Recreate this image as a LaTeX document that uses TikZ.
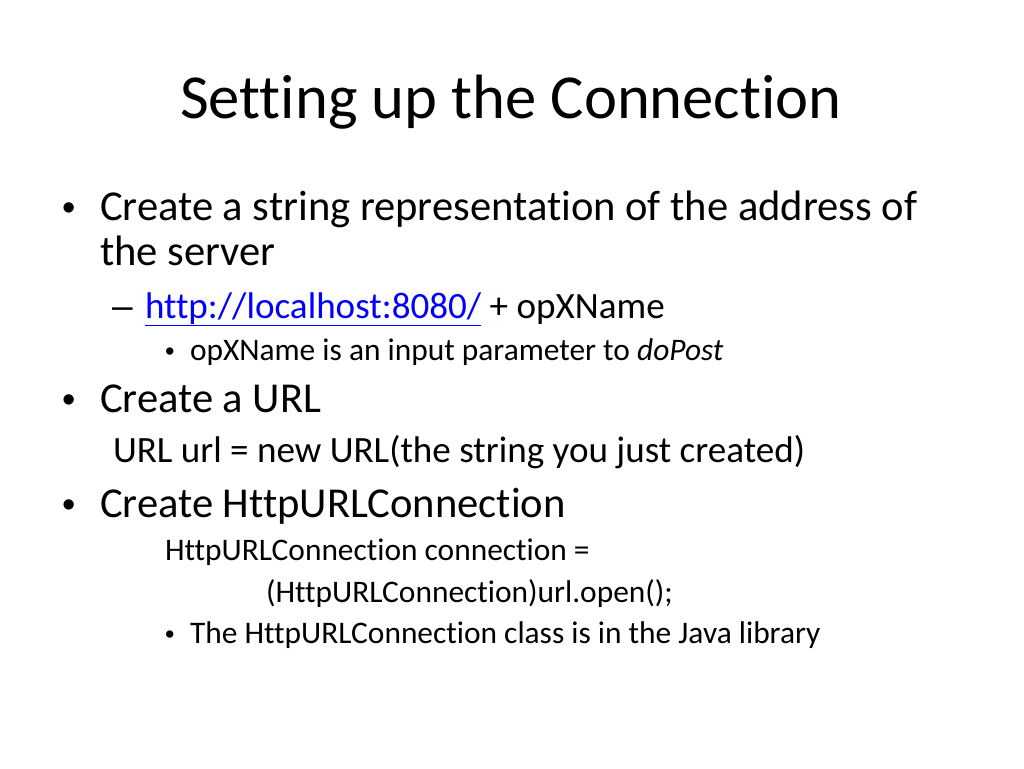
\documentclass[tikz,border=0pt]{standalone}
\usepackage{fontspec}
\setmainfont{Carlito}[Ligatures=NoCommon]
\newfontfamily\bulletfont{Liberation Sans}
\definecolor{linkblue}{RGB}{0,0,255}
\tikzset{
  txt/.style={anchor=base west, inner sep=0pt, outer sep=0pt},
  ttl/.style={anchor=base, inner sep=0pt, font=\fontsize{62.6}{70}\selectfont},
  lone/.style={txt, font=\fontsize{42.6}{48}\selectfont},
  ltwo/.style={txt, font=\fontsize{37.1}{42}\selectfont},
  lthree/.style={txt, font=\fontsize{31.4}{36}\selectfont},
  bone/.style={txt, font=\bulletfont\fontsize{38}{40}\selectfont},
  bthree/.style={txt, font=\bulletfont\fontsize{27}{30}\selectfont},
  dashmark/.style={txt, font=\bulletfont\fontsize{37}{40}\selectfont},
}
\begin{document}
\begin{tikzpicture}[x=1pt,y=-1pt]
\useasboundingbox (0,0) rectangle (1024,768);
\node[ttl] (title) at (511,118) {Setting up the Connection};
% level 1
\node[bone] (b1) at (62,220) {•};
\node[lone] (t1) at (100,220) {Create a string representation of the address of};
\node[lone] (t1b) at (100,265) {the server};
\node[dashmark] (d1) at (112,318) {–};
\node[ltwo, text=linkblue] (link) at (145,318) {\underline{http://localhost:8080/}};
\node[ltwo] (plus) at (link.base east) [anchor=base west] {\ + opXName};
\node[bthree] (b3a) at (165,360) {•};
\node[lthree] (t3a) at (190,360) {opXName is an input parameter to \textit{doPost}};
\node[bone] (b2) at (62,412) {•};
\node[lone] (t2) at (100,412) {Create a URL};
\node[ltwo] (t2a) at (113,462) {URL url = new URL(the string you just created)};
\node[bone] (b3) at (62,517) {•};
\node[lone] (t3) at (100,517) {Create HttpURLConnection};
\node[lthree] (t3b) at (165,560) {HttpURLConnection connection =};
\node[lthree] (t3c) at (266,602) {(HttpURLConnection)url.open();};
\node[bthree] (b3c) at (165,643) {•};
\node[lthree] (t3d) at (190,643) {The HttpURLConnection class is in the Java library};
\end{tikzpicture}
\end{document}
